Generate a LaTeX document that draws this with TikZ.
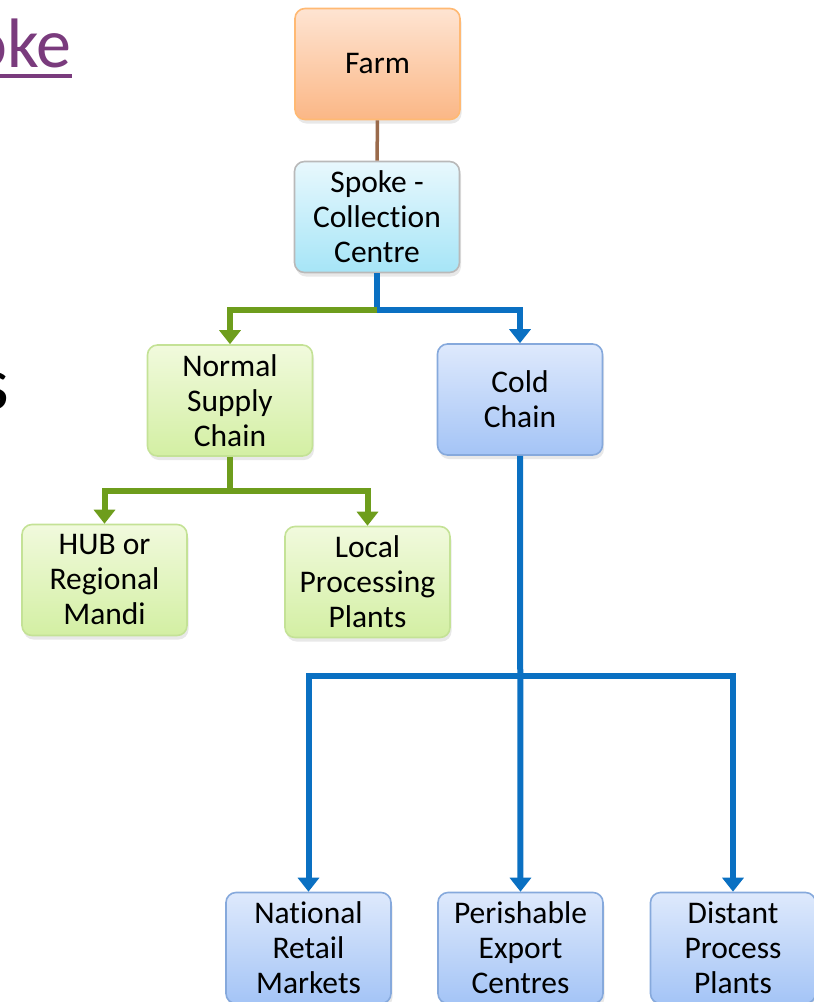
\documentclass[tikz,border=0pt]{standalone}
\usepackage{fontspec}
\setmainfont[Ligatures=NoCommon]{Carlito}
\usetikzlibrary{arrows.meta, shadows}

\definecolor{linkpurple}{HTML}{7A3B7D}
\definecolor{greenline}{HTML}{6E9D1C}
\definecolor{blueline}{HTML}{0A70C2}
\definecolor{brownline}{HTML}{9A6A4B}

\tikzset{
  box/.style={draw, line width=1.6pt, rounded corners=10pt, minimum width=165pt,
    minimum height=111pt, text width=158pt, align=flush center, inner sep=0pt,
    font=\fontsize{31.5}{35}\selectfont,
    drop shadow={shadow xshift=1.5pt, shadow yshift=-4pt, opacity=0.18}},
  farmbox/.style={box, draw=orange!55, top color={rgb,255:red,254;green,228;blue,210}, bottom color={rgb,255:red,251;green,183;blue,134}},
  spokebox/.style={box, draw=gray!55, top color={rgb,255:red,232;green,248;blue,253}, bottom color={rgb,255:red,166;green,229;blue,247}},
  greenbox/.style={box, draw={rgb,255:red,196;green,226;blue,150}, top color={rgb,255:red,241;green,250;blue,221}, bottom color={rgb,255:red,211;green,239;blue,163}},
  bluebox/.style={box, draw={rgb,255:red,134;green,169;blue,220}, top color={rgb,255:red,222;green,233;blue,252}, bottom color={rgb,255:red,164;green,196;blue,246}},
  link/.style={line width=6pt, -{Triangle[width=21pt,length=14pt]}},
}

\begin{document}
\begin{tikzpicture}[x=1pt, y=-1pt]
  \useasboundingbox (0,0) rectangle (814,1002);

  % Cut-off slide text
  \node[anchor=base east, inner sep=0pt, text=linkpurple, font=\fontsize{70}{80}\selectfont] (title) at (72,67) {oke};
  \draw[linkpurple, line width=3.5pt] ([yshift=-9pt]title.base west) -- ([yshift=-9pt]title.base east);
  \node[anchor=base east, inner sep=0pt, font=\fontsize{76}{80}\selectfont] (word) at (9,409) {s};

  % Boxes
  \node[farmbox] (farm) at (377.5,64) {Farm};
  \node[spokebox] (spoke) at (377,217) {Spoke -\\Collection\\Centre};
  \node[greenbox] (normal) at (230,400.5) {Normal\\Supply\\Chain};
  \node[bluebox] (cold) at (520,399.5) {Cold\\Chain};
  \node[greenbox] (hub) at (104.5,580) {HUB or\\Regional\\Mandi};
  \node[greenbox] (local) at (367.5,582) {Local\\Processing\\Plants};
  \node[bluebox] (national) at (308.5,948) {National\\Retail\\Markets};
  \node[bluebox] (perish) at (520.5,948) {Perishable\\Export\\Centres};
  \node[bluebox] (distant) at (733,948) {Distant\\Process\\Plants};

  % Connectors
  \draw[brownline, line width=3.5pt] (farm) -- (spoke);
  \draw[link, blueline] (spoke.south) -- ++(0,37) -| (cold.north);
  \draw[link, greenline] (spoke.south) ++(0,37) -| (normal.north);
  \draw[link, greenline] (normal.south) -- ++(0,34) -| (hub.north);
  \draw[link, greenline] (normal.south) ++(0,34) -| (local.north);
  \draw[link, blueline] (cold.south) -- (perish.north);
  \draw[link, blueline] (cold.south) ++(0,220) -| (national.north);
  \draw[link, blueline] (cold.south) ++(0,220) -| (distant.north);
\end{tikzpicture}
\end{document}
